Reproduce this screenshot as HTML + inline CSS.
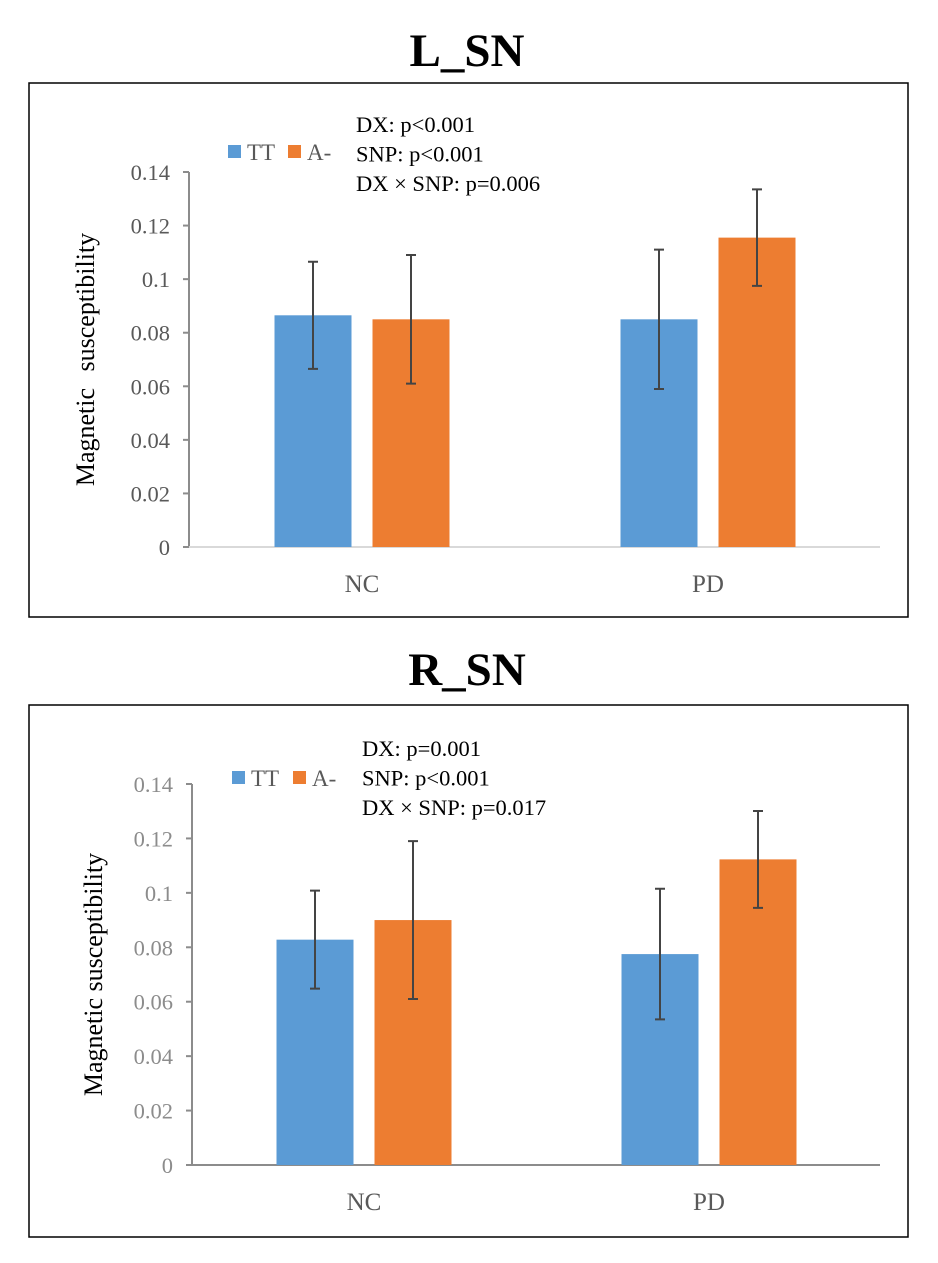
<!DOCTYPE html>
<html><head><meta charset="utf-8"><style>
html,body{margin:0;padding:0;background:#fff;}
svg{display:block;font-family:"Liberation Serif",serif;}
</style></head><body>
<svg id="fig" width="938" height="1263" viewBox="0 0 938 1263" xmlns="http://www.w3.org/2000/svg"></svg>
<script>
const categories = ["NC","PD"];
const seriesNames = ["TT","A-"];
const lsnTT = [0.0865, 0.085];
const lsnA = [0.085, 0.1155];
const lsnTTerr = [0.020, 0.026];
const lsnAerr = [0.024, 0.018];
const rsnTT = [0.0828, 0.0775];
const rsnA = [0.090, 0.1123];
const rsnTTerr = [0.018, 0.024];
const rsnAerr = [0.029, 0.0178];
const yTicks = [0,0.02,0.04,0.06,0.08,0.1,0.12,0.14];
const yTickLabels = ["0","0.02","0.04","0.06","0.08","0.1","0.12","0.14"];
const lsnStats = ["DX: p<0.001","SNP: p<0.001","DX \u00d7 SNP: p=0.006"];
const rsnStats = ["DX: p=0.001","SNP: p<0.001","DX \u00d7 SNP: p=0.017"];

const NS="http://www.w3.org/2000/svg";
const svg=document.getElementById('fig');
function mk(tag,attrs,parent){const e=document.createElementNS(NS,tag);for(const k in attrs)e.setAttribute(k,attrs[k]);(parent||svg).appendChild(e);return e;}

function chart(cfg){
  const g=mk('g',{});
  
  
  const fr=mk('rect',{x:cfg.fx,y:cfg.fy,width:cfg.fw,height:cfg.fh,fill:'none',stroke:'#000','stroke-width':1.5},g);
  
  
  const t=mk('text',{x:467,y:cfg.titleY,'text-anchor':'middle','font-size':47,'font-weight':'bold',fill:'#000'},g);
  t.textContent=cfg.title;
  
  
  const y=v=>cfg.y0-(v/0.14)*(cfg.y0-cfg.y14);
  const ax=mk('line',{x1:cfg.ax,y1:y(0.14),x2:cfg.ax,y2:y(0),stroke:'#8c8c8c','stroke-width':2},g);
  
  
  const xa=mk('line',{x1:cfg.ax,y1:y(0),x2:880,y2:y(0),stroke:cfg.baseCol,'stroke-width':2},g);
  
  
  yTicks.forEach((v,i)=>{
    const tk=mk('line',{x1:cfg.ax-6,y1:y(v),x2:cfg.ax,y2:y(v),stroke:'#8c8c8c','stroke-width':2},g);
    
    
    const tl=mk('text',{x:cfg.ax-19,y:y(v)+8,'text-anchor':'end','font-size':22.5,fill:cfg.tickCol},g);
    tl.textContent=yTickLabels[i];
    
    
  });
  const yl=mk('text',{transform:`translate(${cfg.ylx},${(y(0)+y(0.14))/2}) rotate(-90)`,'text-anchor':'middle','font-size':26,fill:'#000','word-spacing':cfg.ws},g);
  yl.textContent='Magnetic susceptibility';
  
  
  const colors=['#5b9bd5','#ed7d31'];
  const series=[cfg.tt,cfg.a];const errs=[cfg.tte,cfg.ae];
  categories.forEach((c,ci)=>{
    const center=cfg.cx[ci];
    const cl=mk('text',{x:center,y:y(0)+45,'text-anchor':'middle','font-size':25,fill:'#595959'},g);
    cl.textContent=c;
    
    
    series.forEach((s,si)=>{
      const bw=77, gap=21;
      const bx=center-gap/2-bw+si*(bw+gap);
      const v=s[ci];
      const b=mk('rect',{x:bx,y:y(v),width:bw,height:y(0)-y(v),fill:colors[si]},g);
      
      
      const mx=bx+bw/2,e=errs[si][ci];
      const eb=mk('path',{d:`M${mx},${y(v+e)}V${y(v-e)}M${mx-5},${y(v+e)}H${mx+5}M${mx-5},${y(v-e)}H${mx+5}`,stroke:'#444','stroke-width':2,fill:'none'},g);
      
      
    });
  });
  seriesNames.forEach((n,i)=>{
    const lx=cfg.lx[i];
    const sq=mk('rect',{x:lx,y:cfg.ly-12,width:13,height:13,fill:colors[i]},g);
    
    
    const lt=mk('text',{x:lx+19,y:cfg.ly+3,'font-size':23,fill:'#595959'},g);
    lt.textContent=n;
    
    
  });
  cfg.stats.forEach((s,i)=>{
    const st=mk('text',{x:cfg.sx,y:cfg.sy+i*29.5,'font-size':22.5,fill:'#000'},g);
    st.textContent=s;
    
    
  });
}
chart({name:'l-sn-chart',title:'L_SN',titleY:66,fx:29,fy:83,fw:879,fh:534,ax:189,y0:547,y14:172,
  tt:lsnTT,a:lsnA,tte:lsnTTerr,ae:lsnAerr,cx:[362,708],tickCol:'#595959',baseCol:'#d9d9d9',
  ylx:94,ws:10,lx:[228,288],ly:157,stats:lsnStats,sx:356,sy:132});
chart({name:'r-sn-chart',title:'R_SN',titleY:685,fx:29,fy:705,fw:879,fh:532,ax:192,y0:1165,y14:784,
  tt:rsnTT,a:rsnA,tte:rsnTTerr,ae:rsnAerr,cx:[364,709],tickCol:'#8c8c8c',baseCol:'#8c8c8c',
  ylx:102,ws:0,lx:[232,293],ly:783,stats:rsnStats,sx:362,sy:756});
</script>
</body></html>
